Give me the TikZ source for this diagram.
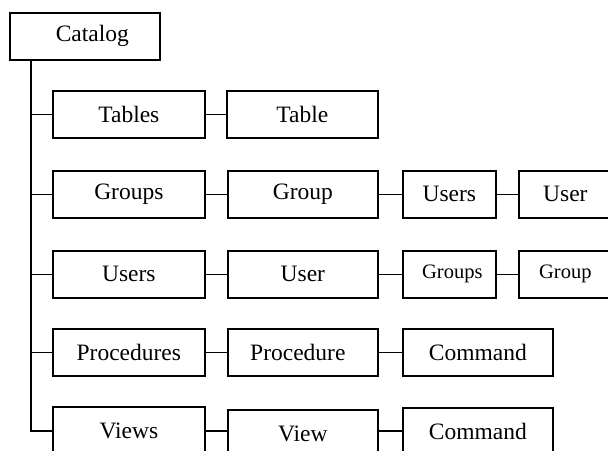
\documentclass[tikz,border=0pt]{standalone}
\usepackage{fontspec}
\setmainfont{Liberation Serif}
\begin{document}
\begin{tikzpicture}[x=1pt,y=-1pt,
  box/.style={draw, line width=1.7pt, minimum height=47pt, inner sep=0pt, anchor=north west, font=\fontsize{23.5}{23.5}\selectfont},
  small/.style={font=\fontsize{20.5}{20.5}\selectfont},
  link/.style={line width=1.7pt}]
\clip (0,0) rectangle (608,450);
\useasboundingbox (0,0) rectangle (608,450);
% level 0
\node[box, minimum width=150pt] (cat) at (9,12) {\hspace*{15pt}Catalog};
% level 1
\node[box, minimum width=152pt] (tabs)  at (52,90)  {Tables};
\node[box, minimum width=152pt] (grps)  at (52,170) {Groups};
\node[box, minimum width=152pt] (usrs)  at (52,250) {Users};
\node[box, minimum width=152pt] (procs) at (52,328) {Procedures};
\node[box, minimum width=152pt, minimum height=48pt] (views) at (52,406) {Views};
% level 2
\node[box, minimum width=151pt] (tab)  at (226,90)  {Table};
\node[box, minimum width=150pt] (grp)  at (227,170) {Group};
\node[box, minimum width=150pt] (usr)  at (227,250) {User};
\node[box, minimum width=150pt] (proc) at (227,328) {Procedure\hspace*{10pt}};
\node[box, minimum width=150pt, minimum height=48pt] (view) at (227,409) {View};
% level 3
\node[box, minimum width=93pt] (gusers) at (402,170) {Users};
\node[box, minimum width=93pt, small] (ugrps) at (402,250) {\hspace*{6pt}Groups};
\node[box, minimum width=150pt] (pcmd) at (402,328) {Command};
\node[box, minimum width=150pt, minimum height=48pt] (vcmd) at (402,407) {Command};
% level 4
\node[box, minimum width=93pt] (guser) at (518,170) {User};
\node[box, minimum width=93pt, small] (ugrp) at (518,250) {Group};
% trunk
\coordinate (t) at (31,0);
\draw[link] (t |- cat.south) |- (views.west);
\foreach \n in {tabs,grps,usrs,procs}
  \draw[link] (t |- \n.west) -- (\n.west);
% row connectors
\draw[link] (tabs.east) -- (tab.west);
\draw[link] (grps.east) -- (grp.west);
\draw[link] (grp.east) -- (gusers.west);
\draw[link] (gusers.east) -- (guser.west);
\draw[link] (usrs.east) -- (usr.west);
\draw[link] (usr.east) -- (ugrps.west);
\draw[link] (ugrps.east) -- (ugrp.west);
\draw[link] (procs.east) -- (proc.west);
\draw[link] (proc.east) -- (pcmd.west);
\draw[link] (views.east) -- (views.east -| view.west);
\draw[link] (views.east -| view.east) -- (views.east -| vcmd.west);
\end{tikzpicture}
\end{document}
